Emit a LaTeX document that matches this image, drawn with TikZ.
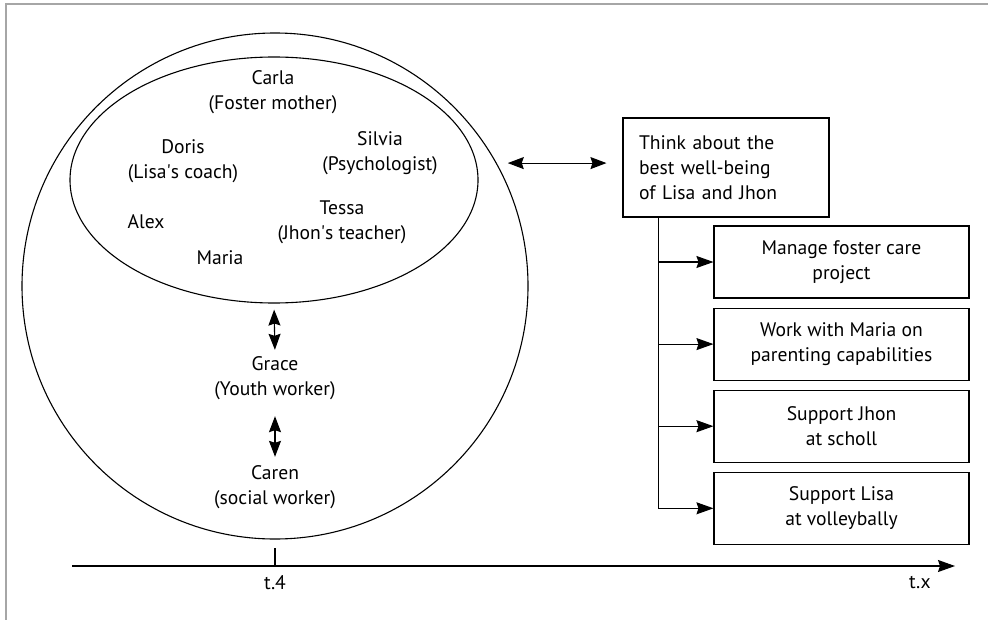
\documentclass[tikz,border=0pt]{standalone}
\usepackage{fontspec}
\setmainfont{PT Sans}
\usetikzlibrary{arrows.meta, shapes.geometric, positioning}

\tikzset{
	tip/.style={-{Stealth[length=8.5pt, width=6pt, inset=1pt]}},
	dbl/.style={{Stealth[length=8pt, width=6pt, inset=1pt]}-{Stealth[length=8pt, width=6pt, inset=1pt]}},
	person/.style={align=center, inner sep=0pt},
	taskbox/.style={draw, minimum width=127.5pt, minimum height=36pt, align=center, inner sep=0pt},
}

\begin{document}
\begin{tikzpicture}[x=0.5pt, y=-0.5pt, line width=0.55pt, font=\fontsize{9.8}{12.5}\selectfont, text=black]
	
	\useasboundingbox (0,0) rectangle (988,620);
	
	% 1. Frame (only top and left edges show)
	\draw[gray!70, line width=1pt] (988,4) -- (6,4) -- (6,620);
	
	% 2. The two circles of people
	\node[draw, circle, minimum size=253pt, inner sep=0pt] (group) at (275,286) {};
	\node[draw, ellipse, minimum width=204pt, minimum height=123pt, inner sep=0pt] (team) at (274,180) {};
	
	% 3. People inside the inner ellipse
	\node[person] (carla) at (273,92) {Carla\\(Foster mother)};
	\node[person] (doris) at (183,161.5) {Doris\\(Lisa\textquotesingle s coach)};
	\node[person] (silvia) at (380,153.5) {Silvia\\(Psychologist)};
	\node[person] (alex) at (146,222) {Alex};
	\node[person] (tessa) at (342,222.5) {Tessa\\(Jhon\textquotesingle s teacher)};
	\node[person] (maria) at (220,258) {Maria};
	
	% 4. Grace and Caren below, linked by double arrows
	\node[person] (grace) at (275,378) {Grace\\(Youth worker)};
	\node[person] (caren) at (275,487) {Caren\\(social worker)};
	\draw[dbl, shorten <=3pt, shorten >=3pt] (team.south) -- (grace.north);
	\draw[dbl, shorten <=8pt, shorten >=4pt] (grace.south) -- (caren.north);
	
	% 5. Goal box and its tasks
	\node[draw, minimum width=103pt, minimum height=49.5pt, text width=87pt, align=left,
	inner xsep=8pt, inner ysep=0pt] (think) at (726,167.5)
	{Think about the\\best well-being\\of Lisa and Jhon};
	\draw[dbl, shorten <=5.5pt, shorten >=8pt] (group.29) -- (group.29 -| think.west);
	
	\node[taskbox] (task1) at (841.5,262) {Manage foster care\\project};
	\node[taskbox, below=4.5pt of task1] (task2) {Work with Maria on\\parenting capabilities};
	\node[taskbox, below=4.5pt of task2] (task3) {Support Jhon\\at scholl};
	\node[taskbox, below=4.5pt of task3] (task4) {Support Lisa\\at volleybally};
	\foreach \t in {1,...,4}
	\draw[tip] ([xshift=18pt]think.south west) |- (task\t.west);
	
	% 6. Time line
	\coordinate (tstart) at (72,566);
	\coordinate (tend) at (955,566);
	\coordinate (tick) at (275,566);
	\draw[tip] (tstart) -- (tend);
	\draw (tick) -- ++(0,-18);
	\node (t4) at (275,583) {t.4};
	\node (tx) at (920,583) {t.x};
	
\end{tikzpicture}
\end{document}
